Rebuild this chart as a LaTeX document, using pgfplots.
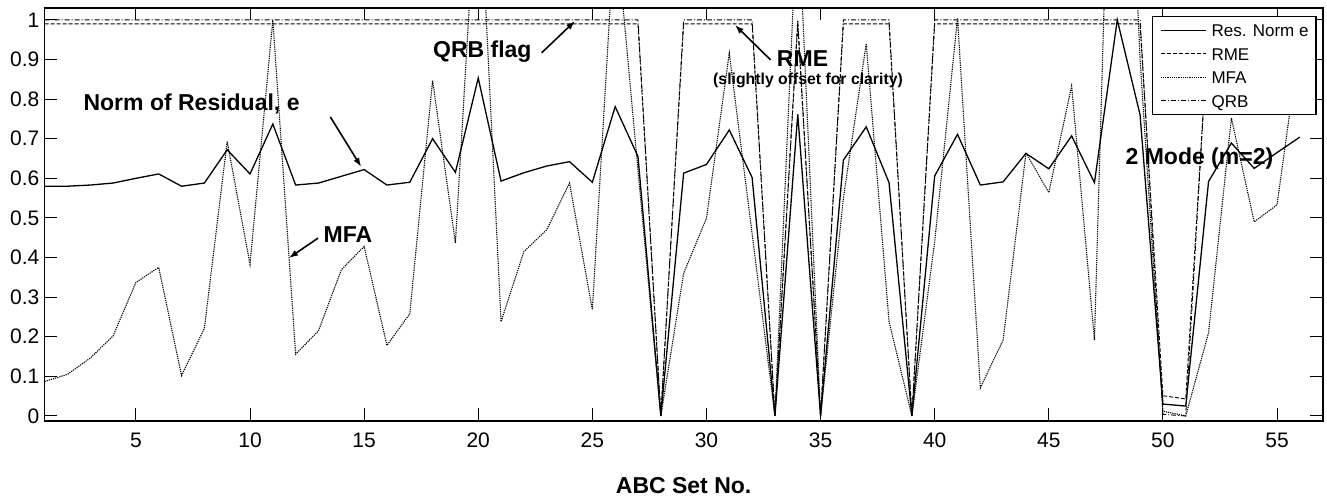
\documentclass[border=0pt]{standalone}
\usepackage{fontspec}
\setmainfont{Liberation Sans}
\usepackage{pgfplots}
\pgfplotsset{compat=1.18}
\usetikzlibrary{arrows.meta}

\pgfplotstableread{
x res rme mfa qrb
1 0.580 0.990 0.087 1.000
2 0.580 0.990 0.105 1.000
3 0.583 0.990 0.146 1.000
4 0.588 0.990 0.202 1.000
5 0.600 0.990 0.337 1.000
6 0.611 0.990 0.375 1.000
7 0.580 0.990 0.102 1.000
8 0.588 0.990 0.221 1.000
9 0.672 0.990 0.693 1.000
10 0.611 0.990 0.383 1.000
11 0.737 0.990 1.000 1.000
12 0.583 0.990 0.156 1.000
13 0.588 0.990 0.215 1.000
14 0.605 0.990 0.369 1.000
15 0.622 0.990 0.428 1.000
16 0.583 0.990 0.178 1.000
17 0.590 0.990 0.258 1.000
18 0.700 0.990 0.847 1.000
19 0.615 0.990 0.437 1.000
20 0.853 0.990 1.420 1.000
21 0.593 0.990 0.238 1.000
22 0.614 0.990 0.415 1.000
23 0.631 0.990 0.470 1.000
24 0.642 0.990 0.588 1.000
25 0.590 0.990 0.268 1.000
26 0.781 0.990 1.250 1.000
27 0.655 0.990 0.620 1.000
28 0.000 0.000 0.000 0.000
29 0.613 0.990 0.360 1.000
30 0.635 0.990 0.499 1.000
31 0.722 0.990 0.916 1.000
32 0.602 0.990 0.460 1.000
33 0.000 0.000 0.000 0.000
34 0.762 0.990 1.300 1.000
35 0.000 0.000 0.000 0.000
36 0.646 0.990 0.550 1.000
37 0.730 0.990 0.940 1.000
38 0.589 0.990 0.238 1.000
39 0.000 0.000 0.000 0.000
40 0.606 0.990 0.440 1.000
41 0.711 0.990 1.005 1.000
42 0.583 0.990 0.071 1.000
43 0.591 0.990 0.192 1.000
44 0.663 0.990 0.664 1.000
45 0.624 0.990 0.564 1.000
46 0.707 0.990 0.833 1.000
47 0.589 0.990 0.192 1.000
48 1.000 0.990 2.190 1.000
49 0.760 0.990 0.900 1.000
50 0.030 0.051 0.012 0.004
51 0.025 0.043 0.000 0.000
52 0.592 0.990 0.210 1.000
53 0.689 0.990 0.752 1.000
54 0.625 0.990 0.490 1.000
55 0.665 0.990 0.533 1.000
56 0.704 0.990 0.950 1.000
}\datatable

\begin{document}
\begin{tikzpicture}
\useasboundingbox (-44.6pt,-79.3pt) rectangle (1282.4pt,420.7pt);
\begin{axis}[
  at={(0pt,0pt)}, anchor=south west,
  scale only axis, width=1278.1pt, height=412.7pt,
  xmin=1, xmax=57, ymin=-0.012, ymax=1.03,
  xtick={5,10,15,20,25,30,35,40,45,50,55},
  ytick={0,0.1,0.2,0.3,0.4,0.5,0.6,0.7,0.8,0.9,1},
  yticklabels={0,0.1,0.2,0.3,0.4,0.5,0.6,0.7,0.8,0.9,1},
  /pgf/number format/assume math mode=true,
  tick label style={font=\fontsize{21}{21}\selectfont, inner sep=0pt},
  xticklabel style={anchor=center, yshift=-19.3pt},
  yticklabel style={anchor=east, xshift=-5pt},
  tick align=inside, tick pos=both,
  major tick length=12.5pt,
  every tick/.style={black, line width=1pt},
  axis line style={black, line width=1.8pt},
  xlabel={\bfseries ABC Set No.},
  xlabel style={font=\fontsize{23}{23}\selectfont, at={(axis description cs:0.5,-0.158)}, anchor=center, inner sep=0pt},
  legend cell align=left,
  legend image code/.code={\draw[#1] (0pt,0pt) -- (45pt,0pt);},
  legend style={at={(axis description cs:0.9953,0.9806)}, anchor=north east,
    draw=black, line width=1.3pt, fill=white,
    font=\fontsize{17}{17}\selectfont, inner xsep=7.5pt, inner ysep=7.7pt,
    row sep=11.3pt, column sep=5pt,
    nodes={inner sep=0pt, font=\fontsize{17}{17}\selectfont, text height=12.2pt, text depth=0pt}},
]
\addplot[black, line width=1.3pt] table[x=x, y=res] {\datatable};
\addlegendentry{Res. Norm e}
\addplot[black, line width=0.9pt, dash pattern=on 4pt off 2pt] table[x=x, y=rme] {\datatable};
\addlegendentry{RME}
\addplot[black, line width=1.1pt, dash pattern=on 1.2pt off 1pt] table[x=x, y=mfa] {\datatable};
\addlegendentry{MFA}
\addplot[black, line width=0.9pt, dash pattern=on 5pt off 2pt on 1pt off 2pt] table[x=x, y=qrb] {\datatable};
\addlegendentry{QRB}

\begin{scope}[every node/.style={font=\fontsize{23}{23}\selectfont\bfseries, inner sep=0pt}]
\node at (axis cs:7.44,0.788) {Norm of Residual, e};
\node at (axis cs:14.29,0.457) {MFA};
\node at (axis cs:20.18,0.92) {QRB flag};
\node at (axis cs:34.21,0.902) {RME};
\node at (axis cs:51.6,0.649) {2 Mode (m=2)};
\node[font=\fontsize{15.8}{15.8}\selectfont\bfseries] at (axis cs:34.45,0.846) {(slightly offset for clarity)};
\end{scope}
\begin{scope}[line width=1.6pt, -{Latex[length=9pt,width=6.5pt]}]
\draw (axis cs:13.52,0.755) -- (axis cs:14.87,0.629);
\draw (axis cs:12.98,0.449) -- (axis cs:11.71,0.399);
\draw (axis cs:22.78,0.917) -- (axis cs:24.24,0.997);
\draw (axis cs:32.81,0.899) -- (axis cs:31.25,0.987);
\end{scope}
\end{axis}
\end{tikzpicture}
\end{document}
